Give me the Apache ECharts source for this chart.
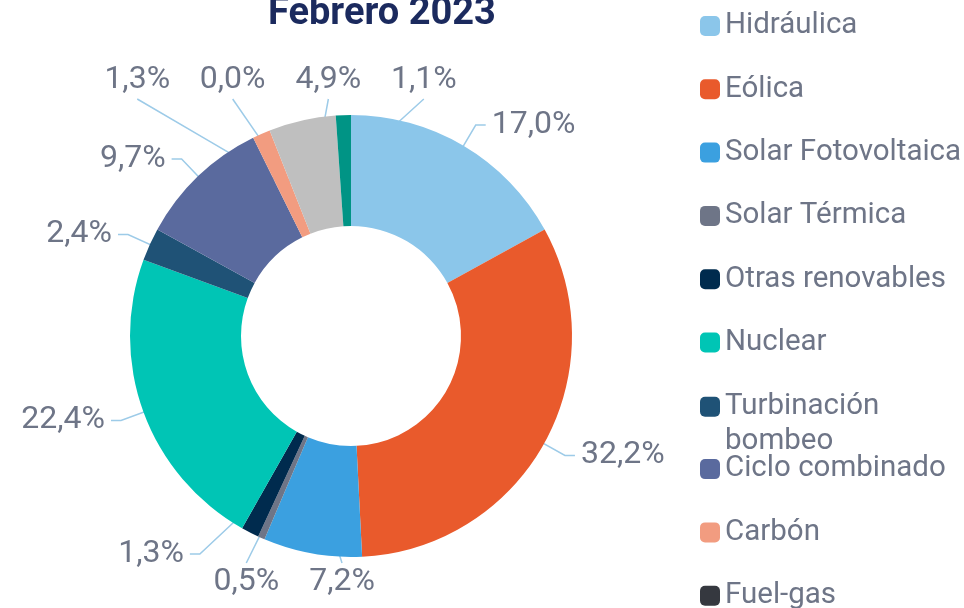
<!DOCTYPE html>
<html>
<head>
<meta charset="utf-8">
<script src="https://cdn.jsdelivr.net/npm/echarts@6/dist/echarts.min.js"></script>
<style>html,body{margin:0;padding:0;background:#fff;}#c{width:964px;height:608px;}</style>
</head>
<body>
<div id="c"></div>
<script>
const titleText = 'Febrero 2023';
const categories = ['Hidráulica','Eólica','Solar Fotovoltaica','Solar Térmica','Otras renovables','Nuclear','Turbinación bombeo','Ciclo combinado','Carbón','Fuel-gas','Cogeneración','Residuos'];
const values = [17.0, 32.2, 7.2, 0.5, 1.3, 22.4, 2.4, 9.7, 1.3, 0.0, 4.9, 1.1];
const colors = ['#8BC6EA','#E95A2C','#3BA0E0','#6E7587','#002B4E','#00C5B5','#1F5276','#5A6A9E','#F29C80','#35383F','#BFBFBF','#009485'];

const font = 'Roboto';
const LABEL_SIZE = 32;
const CX = 351, CY = 336, RIN = 110, ROUT = 221;
const RMID = (RIN + ROUT) / 2, RELB_SIDE = ROUT + 24;
const TOP_ROW = CY - ROUT - 35, BOT_ROW = CY + ROUT + 25;
const HSEG = 10, TGAP = 6, VGAP = 3;

function fmt(v){ return v.toFixed(1).replace('.', ',') + '%'; }

// label placement derived from the pie's own slice angles
function computeLabels(){
  const total = values.reduce((a,b)=>a+b, 0);
  const ctx = document.createElement('canvas').getContext('2d');
  ctx.font = LABEL_SIZE + 'px ' + font;
  let cum = 0;
  const L = values.map(function(v, i){
    const th = (cum + v/2) / total * 2 * Math.PI; cum += v;
    const s = Math.sin(th), c = Math.cos(th);
    const w = ctx.measureText(fmt(v)).width, h = LABEL_SIZE;
    let mode, bx, by;
    if (Math.abs(s) < 0.45) {
      mode = c > 0 ? 'top' : 'bottom';
      by = c > 0 ? TOP_ROW : BOT_ROW;
      const r = Math.abs((by - CY) / c);
      bx = CX + r*s;
    } else {
      mode = s > 0 ? 'right' : 'left';
      const ex = CX + RELB_SIDE*s, ey = CY - RELB_SIDE*c;
      bx = s > 0 ? ex + HSEG + TGAP + w/2 : ex - HSEG - TGAP - w/2;
      by = ey;
    }
    return {i:i, th:th, s:s, c:c, w:w, h:h, mode:mode, bx:bx, by:by};
  });
  // horizontal de-overlap, keeping the left-to-right order of the anchors
  const order = L.slice().sort((a,b)=> (a.bx - b.bx) || (a.s - b.s));
  const MX = 30, MY = 2;
  for (let it = 0; it < 300; it++) {
    let moved = false;
    for (let i = 0; i < order.length; i++) for (let j = i+1; j < order.length; j++) {
      const a = order[i], b = order[j];
      const oy = (a.h + b.h)/2 + MY - Math.abs(a.by - b.by);
      if (oy <= 0) continue;
      const ox = (a.w + b.w)/2 + MX - (b.bx - a.bx);
      if (ox > 0.5) { a.bx -= ox/2; b.bx += ox/2; moved = true; }
    }
    if (!moved) break;
  }
  L.forEach(function(o){
    const p0 = [CX + RMID*o.s, CY - RMID*o.c];
    let p1, p2;
    if (o.mode === 'right') { p2 = [o.bx - o.w/2 - TGAP, o.by]; p1 = [p2[0] - HSEG, o.by]; }
    else if (o.mode === 'left') { p2 = [o.bx + o.w/2 + TGAP, o.by]; p1 = [p2[0] + HSEG, o.by]; }
    else if (o.mode === 'top') { p2 = [o.bx, o.by + o.h/2 + VGAP]; p1 = [(p0[0]+p2[0])/2, (p0[1]+p2[1])/2]; }
    else { p2 = [o.bx, o.by - o.h/2 - VGAP]; p1 = [(p0[0]+p2[0])/2, (p0[1]+p2[1])/2]; }
    o.pts = [p0, p1, p2];
  });
  return L;
}
const labelPos = computeLabels();

const legendText = {fontFamily: font, fontSize: 29.5, color: '#6E7587', lineHeight: 30};
const legendBase = {
  orient: 'vertical', left: 700, padding: 0, height: 2000,
  itemWidth: 20, itemHeight: 20, itemGap: 33.3,
  icon: 'roundRect', selectedMode: false,
  textStyle: legendText
};
const PITCH = 63.3, FIRST_CENTER = 22, NUDGE = 4;
const idxTurb = 6, idxCiclo = 7;

const chart = echarts.init(document.getElementById('c'), null, {renderer:'canvas'});
chart.setOption({
  animation: false,
  color: colors,
  title: {
    text: titleText,
    left: 268, top: -5, padding: 0,
    textStyle: {fontFamily: font, fontSize: 38, fontWeight: 'bold', color: '#1B2A5E'}
  },
  legend: [
    Object.assign({}, legendBase, {top: FIRST_CENTER - 10 - 5 + NUDGE, data: categories.slice(0, idxTurb)}),
    Object.assign({}, legendBase, {
      top: FIRST_CENTER + idxTurb*PITCH - 10 - 52.5 + NUDGE + 11,
      formatter: function(n){ return ' \n' + n.replace(' ', '\n'); },
      textStyle: Object.assign({}, legendText, {lineHeight: 35}),
      data: categories.slice(idxTurb, idxCiclo)
    }),
    Object.assign({}, legendBase, {top: FIRST_CENTER + idxCiclo*PITCH - 10 - 5 + NUDGE, data: categories.slice(idxCiclo)})
  ],
  series: [{
    type: 'pie',
    center: [CX, CY],
    radius: [RIN, ROUT],
    startAngle: 90,
    clockwise: true,
    avoidLabelOverlap: false,
    label: {
      show: true, position: 'outside',
      fontFamily: font, fontSize: LABEL_SIZE, color: '#6E7587',
      formatter: function(p){ return fmt(p.value); }
    },
    labelLine: {
      show: true, length: 24, length2: 10,
      lineStyle: {color: '#9DCBE8', width: 1.5}
    },
    labelLayout: function(p){
      const o = labelPos[p.dataIndex];
      return {x: o.bx, y: o.by, align: 'center', verticalAlign: 'middle', labelLinePoints: o.pts};
    },
    data: categories.map((c,i)=>({name:c, value: values[i]}))
  }]
});
</script>
</body>
</html>
